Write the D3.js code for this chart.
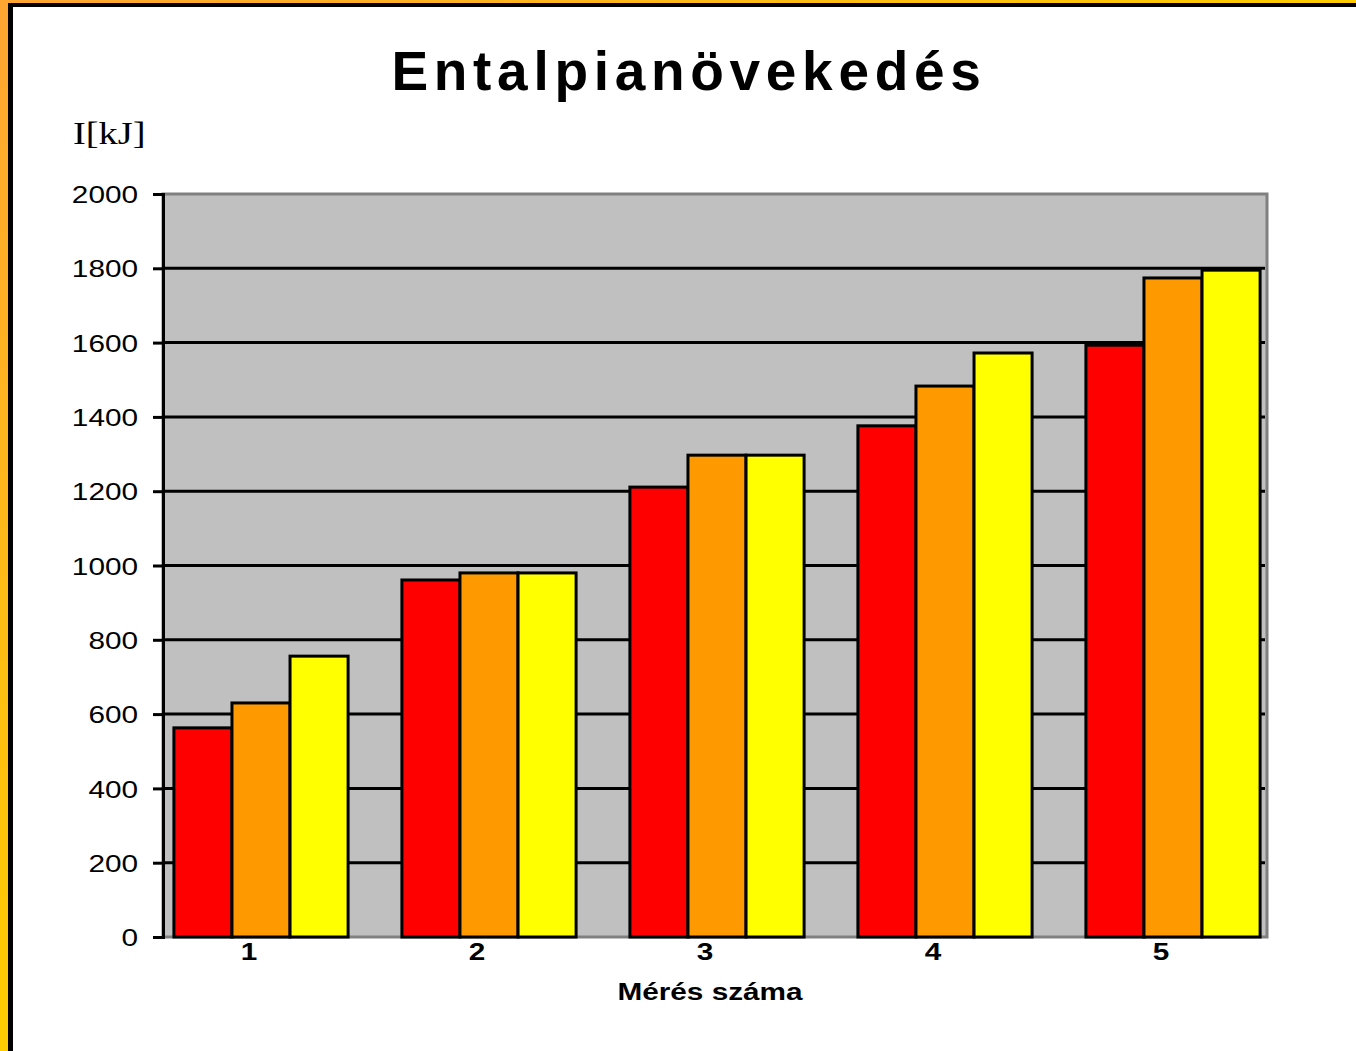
<!DOCTYPE html>
<html><head><meta charset="utf-8">
<script src="https://cdn.jsdelivr.net/npm/d3@7"></script>
<style>
html,body{margin:0;padding:0;background:#fff;}
svg{display:block;}
</style></head>
<body>
<svg id="chart" width="1356" height="1051"></svg>
<script>
const categories = ["1", "2", "3", "4", "5"];
const seriesNames = ["A", "B", "C"];
const seriesA = [563, 961, 1211, 1376, 1593];
const seriesB = [630, 980, 1297, 1483, 1774];
const seriesC = [756, 980, 1297, 1572, 1795];
const seriesColors = ["#FF0000", "#FF9900", "#FFFF00"];
const yTicks = [0, 200, 400, 600, 800, 1000, 1200, 1400, 1600, 1800, 2000];
const titleText = "Entalpianövekedés";
const yLabel = "I[kJ]";
const xLabel = "Mérés száma";

const allSeries = [seriesA, seriesB, seriesC];
const svg = d3.select("#chart");
const SX = 1.24; // horizontal text stretch

// frame
const defs = svg.append("defs");
const lg = defs.append("linearGradient").attr("id","og").attr("x1",0).attr("y1",0).attr("x2",0).attr("y2",1);
lg.append("stop").attr("offset","0%").attr("stop-color","#FFA533");
lg.append("stop").attr("offset","100%").attr("stop-color","#FFCC00");
const lg2 = defs.append("linearGradient").attr("id","og2").attr("x1",0).attr("y1",0).attr("x2",1).attr("y2",0);
lg2.append("stop").attr("offset","0%").attr("stop-color","#FFA533");
lg2.append("stop").attr("offset","100%").attr("stop-color","#FFCC00");
svg.append("rect").attr("x",0).attr("y",0).attr("width",8).attr("height",1051).attr("fill","url(#og)");
svg.append("rect").attr("x",0).attr("y",0).attr("width",1356).attr("height",3).attr("fill","url(#og2)");
svg.append("rect").attr("x",8).attr("y",3).attr("width",5).attr("height",1048).attr("fill","#000");
svg.append("rect").attr("x",8).attr("y",3).attr("width",1348).attr("height",4).attr("fill","#000");

// plot area
const plotL = 163, plotR = 1267, plotT = 194, plotB = 937;
const y = d3.scaleLinear().domain([0, 2000]).range([plotB, plotT]);
const x0 = d3.scaleBand().domain(categories).range([147, 1287]).paddingInner(0.236).paddingOuter(0.118);
const x1 = d3.scaleBand().domain(seriesNames).range([0, x0.bandwidth()]);

svg.append("rect").attr("x",plotL).attr("y",plotT).attr("width",plotR-plotL).attr("height",plotB-plotT)
  .attr("fill","#C0C0C0").attr("stroke","#808080").attr("stroke-width",3);

// gridlines
svg.append("g").selectAll("line").data(yTicks.filter(d=>d>0 && d<2000)).join("line")
  .attr("x1",plotL).attr("x2",plotR-2).attr("y1",d=>y(d)).attr("y2",d=>y(d))
  .attr("stroke","#000").attr("stroke-width",3);

// bars
const groups = svg.append("g").selectAll("g").data(categories).join("g")
  .attr("transform", d => `translate(${x0(d)},0)`);
groups.selectAll("rect").data((d,i) => seriesNames.map((s,j) => ({s, v: allSeries[j][i], c: seriesColors[j]})))
  .join("rect")
  .attr("x", d => x1(d.s)).attr("width", x1.bandwidth())
  .attr("y", d => y(d.v)).attr("height", d => y(0) - y(d.v))
  .attr("fill", d => d.c).attr("stroke","#000").attr("stroke-width",3);

// y axis
const yAxis = svg.append("g").attr("transform",`translate(${plotL},0)`)
  .call(d3.axisLeft(y).tickValues(yTicks).tickFormat(d3.format("d")).tickSize(10).tickPadding(0));
yAxis.select(".domain").attr("stroke","#000").attr("stroke-width",3);
yAxis.selectAll(".tick line").attr("stroke","#000").attr("stroke-width",3);
yAxis.selectAll(".tick text")
  .attr("font-family","Liberation Sans, Arial, sans-serif").attr("font-size",24).attr("fill","#000")
  .attr("x", -25/SX).attr("dy","0.36em")
  .attr("transform",`scale(${SX},1)`);

// x category labels
svg.append("g").selectAll("text").data(categories).join("text")
  .attr("transform", d => `translate(${x0(d)+x0.bandwidth()/2-12},${plotB+23}) scale(${SX},1)`)
  .attr("text-anchor","middle")
  .attr("font-family","Liberation Sans, Arial, sans-serif").attr("font-weight","bold").attr("font-size",24)
  .text(d => d);

// title
svg.append("text").attr("x",689).attr("y",90).attr("text-anchor","middle")
  .attr("font-family","Liberation Sans, Arial, sans-serif").attr("font-weight","bold").attr("font-size",55)
  .attr("letter-spacing","5.7px").text(titleText);

// y label
svg.append("text").attr("transform","translate(73,144) scale(1.2,1)")
  .attr("font-family","Liberation Serif, Times New Roman, serif").attr("font-size",32)
  .text(yLabel);

// x label
svg.append("text").attr("transform",`translate(710,1000) scale(${SX},1)`).attr("text-anchor","middle")
  .attr("font-family","Liberation Sans, Arial, sans-serif").attr("font-weight","bold").attr("font-size",24)
  .text(xLabel);
</script>
</body></html>
